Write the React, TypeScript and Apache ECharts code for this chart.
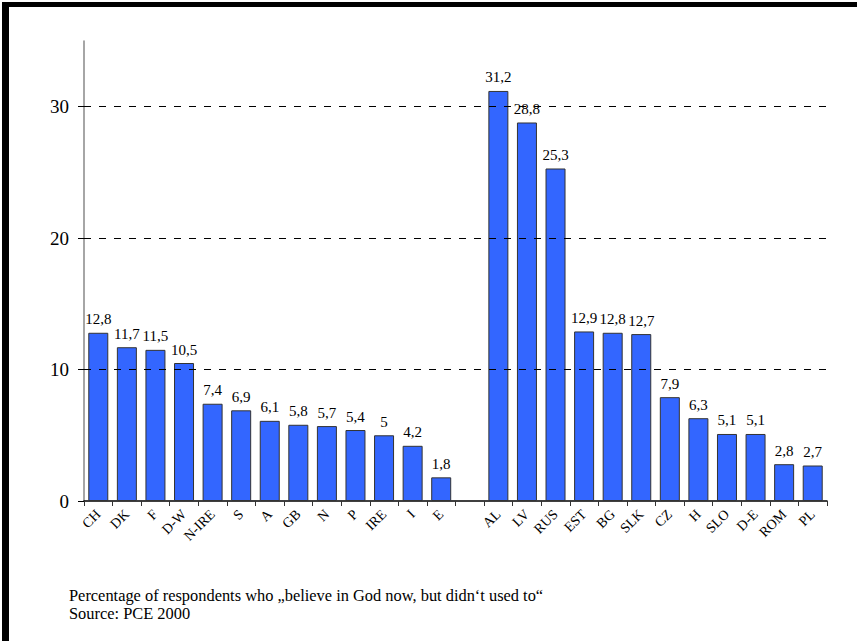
import React, { useEffect, useRef } from "react";
import * as echarts from "echarts";

const categories = ["CH", "DK", "F", "D-W", "N-IRE", "S", "A", "GB", "N", "P", "IRE", "I", "E", "", "AL", "LV", "RUS", "EST", "BG", "SLK", "CZ", "H", "SLO", "D-E", "ROM", "PL"];
const values: (number | null)[] = [12.8, 11.7, 11.5, 10.5, 7.4, 6.9, 6.1, 5.8, 5.7, 5.4, 5, 4.2, 1.8, null, 31.2, 28.8, 25.3, 12.9, 12.8, 12.7, 7.9, 6.3, 5.1, 5.1, 2.8, 2.7];
const yTicks = [0, 10, 20, 30];
const gridValues = [10, 20, 30];
const footerLines = [
  "Percentage of respondents who \u201ebelieve in God now, but didn\u2018t used to\u201c",
  "Source: PCE 2000",
];

const FONT = "'Liberation Serif', 'Times New Roman', serif";

export default function App() {
  const ref = useRef<HTMLDivElement>(null);
  useEffect(() => {
    if (!ref.current) return;
    const chart = echarts.init(ref.current, null, { renderer: "svg" });
    chart.setOption({
      animation: false,
      backgroundColor: "#ffffff",
      textStyle: { fontFamily: FONT },
      grid: { left: 84, right: 30, top: 41, bottom: 140 },
      xAxis: {
        type: "category",
        data: categories,
        axisLine: { lineStyle: { color: "#000", width: 1.5 } },
        axisTick: { show: true, alignWithLabel: false, length: 5, lineStyle: { color: "#333" } },
        axisLabel: { interval: 0, rotate: 45, fontSize: 14, color: "#000", fontFamily: FONT, margin: 11 },
      },
      yAxis: {
        type: "value",
        min: 0,
        max: 35,
        interval: 10,
        axisLine: { show: true, lineStyle: { color: "#888", width: 1.5 } },
        axisTick: { show: true, length: 6, customValues: yTicks, lineStyle: { color: "#000" } },
        axisLabel: { customValues: yTicks, fontSize: 19, color: "#000", fontFamily: FONT, margin: 15 },
        splitLine: { show: false },
      },
      series: [
        {
          type: "bar",
          data: values,
          barCategoryGap: "30%",
          itemStyle: { color: "#3366FF", borderColor: "#333", borderWidth: 1 },
          label: {
            show: true,
            position: "top",
            distance: 6,
            fontSize: 15,
            color: "#000",
            fontFamily: FONT,
            formatter: (p: any) => String(p.value).replace(".", ","),
          },
          markLine: {
            silent: true,
            symbol: "none",
            label: { show: false },
            lineStyle: { type: [7, 8], color: "#000", width: 1 },
            data: gridValues.map((v) => ({ yAxis: v })),
          },
          z: 3,
        },
      ],
      graphic: [
        { type: "rect", shape: { x: 2, y: 2, width: 855, height: 5 }, style: { fill: "#000" } },
        { type: "rect", shape: { x: 2, y: 2, width: 7, height: 639 }, style: { fill: "#000" } },
        ...footerLines.map((line, i) => ({
          type: "text",
          left: 69,
          top: 587 + i * 18,
          style: { text: line, font: `16.4px ${FONT}`, fill: "#000" },
        })),
      ],
    });
    return () => chart.dispose();
  }, []);
  return (
    <div
      ref={ref}
      style={{ position: "fixed", left: 0, top: 0, width: 857, height: 641, background: "#fff" }}
    />
  );
}
